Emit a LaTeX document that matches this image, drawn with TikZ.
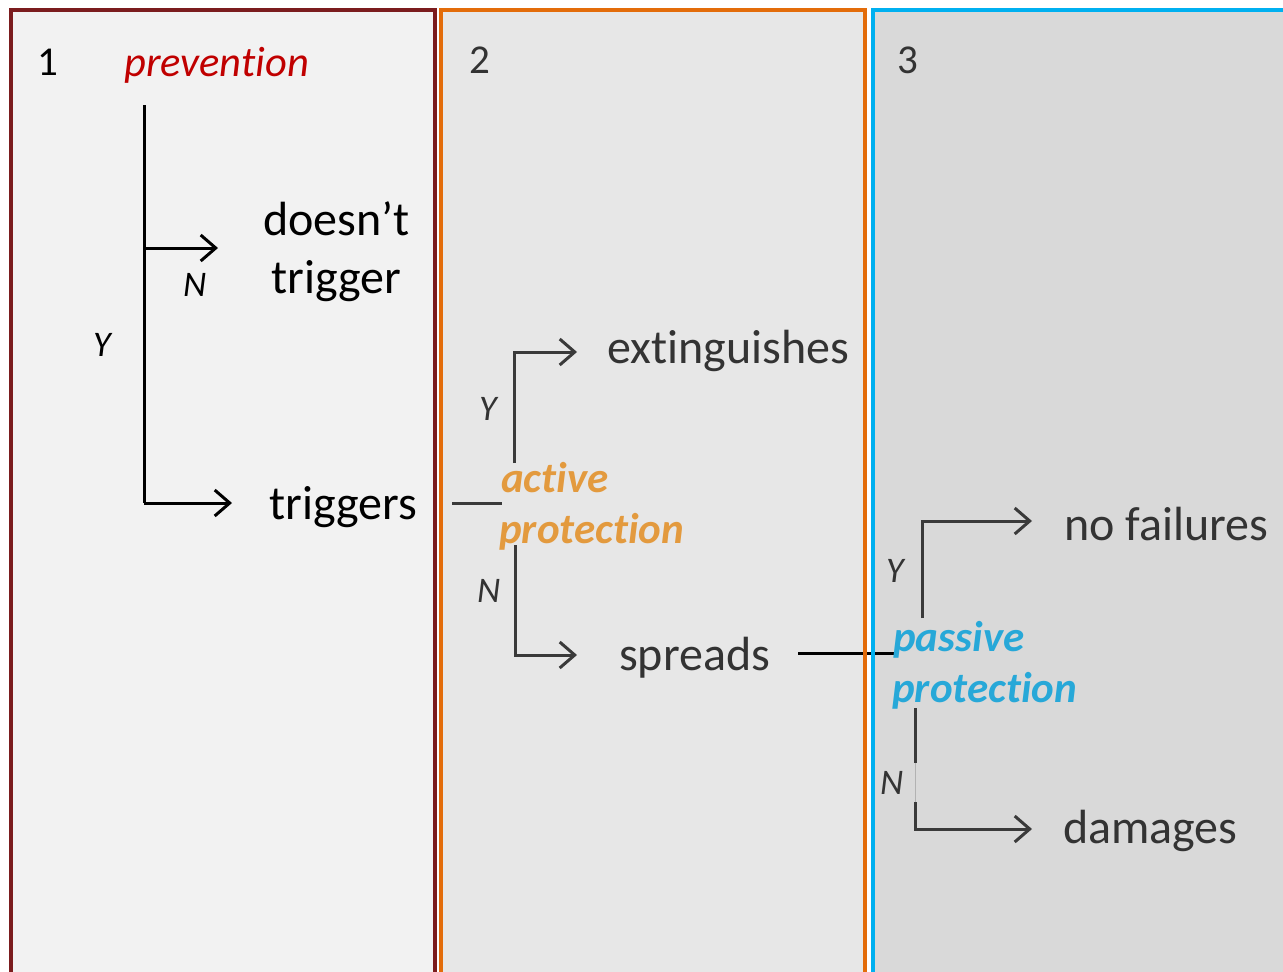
\documentclass[tikz,border=0pt]{standalone}
\usepackage{fontspec}
\setmainfont{Carlito}[Ligatures=NoCommon]
\usetikzlibrary{arrows.meta}
\definecolor{fillA}{HTML}{F2F2F2}
\definecolor{fillB}{HTML}{E7E7E7}
\definecolor{fillC}{HTML}{D9D9D9}
\definecolor{bordA}{HTML}{7B1C1E}
\definecolor{bordB}{HTML}{E36C0A}
\definecolor{bordC}{HTML}{00B0F0}
\definecolor{prevred}{HTML}{C00000}
\definecolor{actorange}{HTML}{E39A3E}
\definecolor{passblue}{HTML}{27A8D8}
\definecolor{darktxt}{HTML}{333333}
\definecolor{darkline}{HTML}{3A3A3A}
\begin{document}
\begin{tikzpicture}[x=1pt,y=-1pt,
  lbl/.style={anchor=base west,inner sep=0pt,font=\fontsize{48}{57}\selectfont},
  num/.style={anchor=base west,inner sep=0pt,font=\fontsize{41}{49}\selectfont},
  yn/.style={anchor=base west,inner sep=0pt,font=\fontsize{36}{43}\selectfont\itshape},
  head/.style={anchor=base west,inner sep=0pt,font=\fontsize{43}{51}\selectfont\bfseries\itshape},
  conn/.style={line width=3pt},
  arr/.style={conn,-{Straight Barb[length=15pt,width=26pt,line width=3pt]}},
  frame/.style={line width=4pt}]
\useasboundingbox (0,0) rectangle (1283,972);
\begin{scope}
\clip (0,0) rectangle (1283,972);
\fill[fillA] (11,10) rectangle (435,990);
\fill[fillB] (441,10) rectangle (865,990);
\fill[fillC] (873,10) rectangle (1300,990);
% connector spreads -> passive protection (under the frames)
\coordinate (sp1) at (798,653);
\coordinate (sp2) at (894,653);
\draw[line width=3pt,black] (sp1) -- (sp2);
\draw[frame,bordA] (11,10) rectangle (435,990);
\draw[frame,bordB] (441,10) rectangle (865,990);
\draw[frame,bordC] (873,10) rectangle (1300,990);
\end{scope}

% ---- panel 1
\node[num] (n1) at (37,75) {1};
\node[anchor=base west,inner sep=0pt,font=\fontsize{42.5}{50}\selectfont\itshape,text=prevred] (prev) at (124,76) {prevention};
\node[lbl] (dt1) at (263,235) {doesn’t};
\node[lbl] (dt2) at (271,293) {trigger};
\node[lbl] (trig) at (269,519) {triggers};
\node[yn] (N1) at (183,296) {N};
\node[yn] (Y1) at (93,356) {Y};
\coordinate (a1) at (144,105);
\coordinate (a2) at (144,248);
\coordinate (a3) at (218,248);
\coordinate (a4) at (144,503);
\coordinate (a5) at (232,503);
\draw[conn] (a1) -- (a4);
\draw[arr] (a2) -- (a3);
\draw[arr] (a4) -- (a5);

% ---- panel 2
\node[num,text=darktxt] (n2) at (469,73) {2};
\node[lbl,text=darktxt] (ext) at (607,363) {extinguishes};
\node[lbl,text=darktxt] (spr) at (619,670) {spreads};
\node[head,text=actorange] (act1) at (501,492) {active};
\node[head,text=actorange] (act2) at (499,543) {protection};
\node[yn,text=darktxt] (Y2) at (479,420) {Y};
\node[yn,text=darktxt] (N2) at (477,602) {N};
\coordinate (b0) at (452,503);
\coordinate (b1) at (502,503);
\coordinate (b2) at (514,463);
\coordinate (b3) at (514,352);
\coordinate (b4) at (577,352);
\coordinate (b5) at (515,545);
\coordinate (b6) at (515,655);
\coordinate (b7) at (577,655);
\draw[conn,darkline] (b0) -- (b1);
\draw[arr,darkline] (b2) -- (b3) -- (b4);
\draw[arr,darkline] (b5) -- (b6) -- (b7);

% ---- panel 3
\node[num,text=darktxt] (n3) at (897,73) {3};
\node[lbl,text=darktxt] (nof) at (1064,540) {no failures};
\node[lbl,text=darktxt] (dam) at (1063,843) {damages};
\node[head,text=passblue] (pas1) at (893,651) {passive};
\node[head,text=passblue] (pas2) at (892,702) {protection};
\node[yn,text=darktxt] (Y3) at (886,582) {Y};
\node[yn,text=darktxt] (N3) at (880,794) {N};
\coordinate (c1) at (922,618);
\coordinate (c2) at (922,521);
\coordinate (c3) at (1032,521);
\coordinate (c4) at (915,708);
\coordinate (c5) at (915,763);
\coordinate (c6) at (915,802);
\coordinate (c7) at (915,829);
\coordinate (c8) at (1032,829);
\draw[arr,darkline] (c1) -- (c2) -- (c3);
\draw[conn,darkline] (c4) -- (c5);
\draw[line width=0.8pt,gray!60] (c5) -- (c6);
\draw[arr,darkline] (c6) -- (c7) -- (c8);
\end{tikzpicture}
\end{document}
